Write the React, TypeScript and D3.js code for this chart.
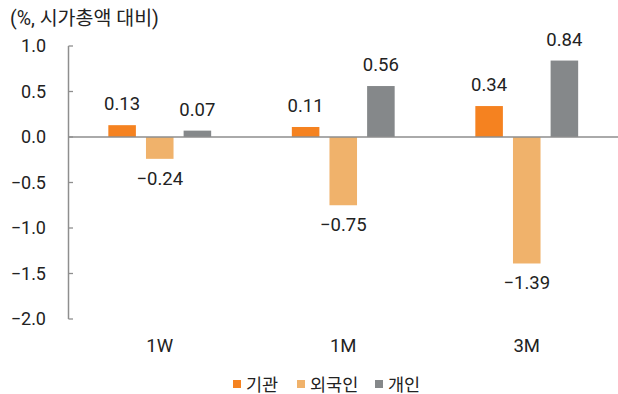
import React from "react";
import * as d3 from "d3";

const categories = ["1W", "1M", "3M"];
const seriesNames = ["기관", "외국인", "개인"];
const institutions = [0.13, 0.11, 0.34];
const foreigners = [-0.24, -0.75, -1.39];
const individuals = [0.07, 0.56, 0.84];
const yTicks = [1.0, 0.5, 0.0, -0.5, -1.0, -1.5, -2.0];
const colors = ["#F58220", "#F0B26B", "#85888A"];

const W = 618;
const H = 394;
const FONT = "Roboto, 'Noto Sans CJK KR', sans-serif";

const fmt = (v: number) => (v < 0 ? "\u2212" + Math.abs(v).toFixed(2) : v.toFixed(2));
const fmtTick = (v: number) => (v < 0 ? "\u2212" + Math.abs(v).toFixed(1) : v.toFixed(1));

export default function App() {
  const values = [institutions, foreigners, individuals];
  const x = d3.scaleBand<string>().domain(categories).range([68, 618.5]).padding(0);
  const inner = d3.scaleBand<string>().domain(seriesNames).range([-61.5, 61.5]).padding(0.268);
  const y = d3.scaleLinear().domain([-2, 1]).range([319, 46]);
  const y0 = y(0);
  const axisColor = "#8E8E8E";
  const textColor = "#222";

  const legendX = [233, 297, 375];

  return (
    <div style={{ position: "fixed", left: 0, top: 0 }}>
      <svg width={W} height={H} style={{ display: "block", background: "#fff" }} fontFamily={FONT}>
        <text x={10} y={25} fontSize={19.5} fill={textColor}>(%, 시가총액 대비)</text>

        {yTicks.map((t) => (
          <g key={t}>
            <line x1={68.5} x2={73} y1={y(t)} y2={y(t)} stroke={axisColor} strokeWidth={1.3} />
            <text x={46} y={y(t) + 6} textAnchor="end" fontSize={18} fill={textColor}>
              {fmtTick(t)}
            </text>
          </g>
        ))}
        <line x1={68.5} x2={68.5} y1={y(1)} y2={y(-2)} stroke={axisColor} strokeWidth={1.5} />

        {categories.map((c, ci) => {
          const cx = (x(c) ?? 0) + x.bandwidth() / 2;
          return (
            <g key={c}>
              {seriesNames.map((s, si) => {
                const v = values[si][ci];
                const bx = cx + (inner(s) ?? 0);
                const top = Math.min(y(v), y0);
                const h = Math.abs(y(v) - y0);
                const lx = bx + inner.bandwidth() / 2;
                const ly = v >= 0 ? y(v) - 15 : y(v) + 26;
                return (
                  <g key={s}>
                    <rect x={bx} y={top} width={inner.bandwidth()} height={h} fill={colors[si]} />
                    <text x={lx} y={ly} textAnchor="middle" fontSize={18.5} fill={textColor}>
                      {fmt(v)}
                    </text>
                  </g>
                );
              })}
              <text x={cx} y={352} textAnchor="middle" fontSize={18.5} fill={textColor}>
                {c}
              </text>
            </g>
          );
        })}

        <line x1={68} x2={618} y1={y0} y2={y0} stroke={axisColor} strokeWidth={1.5} />

        {seriesNames.map((s, i) => (
          <g key={s}>
            <rect x={legendX[i]} y={380} width={8} height={8} fill={colors[i]} />
            <text x={legendX[i] + 13} y={390.5} fontSize={17.5} fill={textColor}>
              {s}
            </text>
          </g>
        ))}
      </svg>
    </div>
  );
}
